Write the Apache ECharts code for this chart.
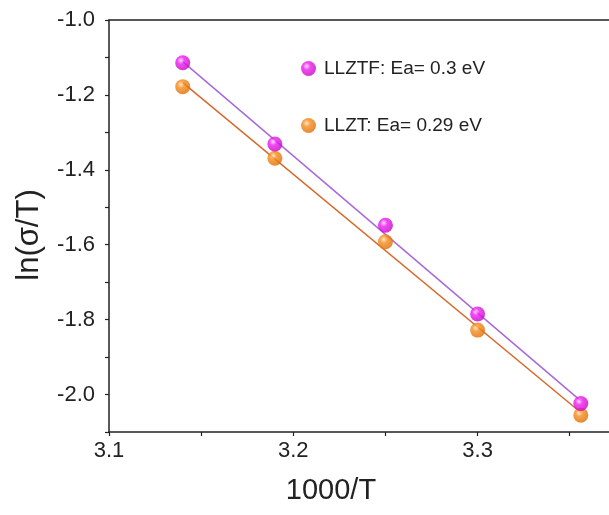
<!DOCTYPE html>
<html>
<head>
<meta charset="utf-8">
<script src="https://cdn.jsdelivr.net/npm/echarts@6/dist/echarts.min.js"></script>
<style>
  html, body { margin: 0; padding: 0; background: #fff; }
  #chart { width: 609px; height: 515px; }
</style>
</head>
<body>
<div id="chart"></div>
<script>
// Arrhenius data: 1000/T against ln(sigma/T)
const invT = [3.14, 3.19, 3.25, 3.30, 3.356];
const lnLLZTF = [-1.114, -1.331, -1.548, -1.785, -2.024];
const lnLLZT = [-1.178, -1.369, -1.592, -1.828, -2.055];

// Linear-fit segments (end points)
const fitLLZTFx = [3.14, 3.356];
const fitLLZTFy = [-1.111, -2.017];
const fitLLZTx = [3.14, 3.356];
const fitLLZTy = [-1.167, -2.048];

const seriesNames = ['LLZTF: Ea= 0.3 eV', 'LLZT: Ea= 0.29 eV'];
const xTickLabels = ['3.1', '3.2', '3.3'];
const yTickLabels = ['-2.0', '-1.8', '-1.6', '-1.4', '-1.2', '-1.0'];

const FONT = 'Liberation Sans, Arial, sans-serif';
const AXIS = '#222';

function pairs(xs, ys) { return xs.map((x, i) => [x, ys[i]]); }

function ball(light, mid, dark) {
  return {
    type: 'radial', x: 0.38, y: 0.35, r: 0.68,
    colorStops: [
      { offset: 0, color: light },
      { offset: 0.35, color: mid },
      { offset: 1, color: dark }
    ]
  };
}

function labelFrom(list) {
  return function (v) {
    if (Math.abs(v * 10 - Math.round(v * 10)) > 1e-6) return '';
    const s = v.toFixed(1);
    return list.includes(s) ? s : '';
  };
}

const chart = echarts.init(document.getElementById('chart'), null, { renderer: 'canvas' });

chart.setOption({
  animation: false,
  backgroundColor: '#fff',
  grid: { left: 109, top: 20, right: 0, bottom: 83, containLabel: false },
  legend: {
    data: seriesNames,
    orient: 'vertical',
    left: 301,
    top: 59,
    padding: 0,
    itemGap: 38,
    itemWidth: 15,
    itemHeight: 15,
    icon: 'circle',
    textStyle: { fontFamily: FONT, fontSize: 19, color: '#222', padding: [0, 0, 0, 3] }
  },
  xAxis: [{
    type: 'value',
    min: 3.1,
    max: 3.3713,
    interval: 0.05,
    name: '1000/T',
    nameLocation: 'middle',
    nameGap: 44,
    nameTextStyle: { fontFamily: FONT, fontSize: 29, color: '#222', padding: [0, 56, 0, 0] },
    axisLine: { show: true, onZero: false, lineStyle: { color: AXIS, width: 1.5 } },
    axisTick: { show: true, inside: false, length: 4, lineStyle: { color: AXIS, width: 1.2 } },
    axisLabel: { formatter: labelFrom(xTickLabels), fontFamily: FONT, fontSize: 22, color: '#222', margin: 8, showMaxLabel: false },
    splitLine: { show: false }
  }, {
    type: 'value',
    position: 'top',
    min: 3.1,
    max: 3.3713,
    axisLine: { show: true, onZero: false, lineStyle: { color: AXIS, width: 1.5 } },
    axisTick: { show: false },
    axisLabel: { show: false },
    splitLine: { show: false }
  }],
  yAxis: {
    type: 'value',
    min: -2.1,
    max: -1.0,
    interval: 0.1,
    name: 'ln(σ/T)',
    nameLocation: 'middle',
    nameGap: 64,
    nameRotate: 90,
    nameTextStyle: { fontFamily: FONT, fontSize: 31, color: '#222', padding: [0, 18, 0, 0] },
    axisLine: { show: true, onZero: false, lineStyle: { color: AXIS, width: 1.5 } },
    axisTick: { show: true, inside: false, length: 4, lineStyle: { color: AXIS, width: 1.2 } },
    axisLabel: { formatter: labelFrom(yTickLabels), fontFamily: FONT, fontSize: 22, color: '#222', margin: 14 },
    splitLine: { show: false }
  },
  series: [
    {
      name: 'fit LLZT',
      type: 'line',
      data: pairs(fitLLZTx, fitLLZTy),
      symbol: 'none',
      lineStyle: { color: '#d7692a', width: 1.5 },
      z: 2,
      silent: true
    },
    {
      name: 'fit LLZTF',
      type: 'line',
      data: pairs(fitLLZTFx, fitLLZTFy),
      symbol: 'none',
      lineStyle: { color: '#a86ad8', width: 1.5 },
      z: 2,
      silent: true
    },
    {
      name: seriesNames[1],
      type: 'scatter',
      data: pairs(invT, lnLLZT),
      symbol: 'circle',
      symbolSize: 15,
      itemStyle: { color: ball('#ffe2b8', '#f68c1c', '#dc6c05') },
      z: 3
    },
    {
      name: seriesNames[0],
      type: 'scatter',
      data: pairs(invT, lnLLZTF),
      symbol: 'circle',
      symbolSize: 15,
      itemStyle: { color: ball('#ffd6ff', '#ee1cee', '#c405c4') },
      z: 4
    }
  ]
});
</script>
</body>
</html>
